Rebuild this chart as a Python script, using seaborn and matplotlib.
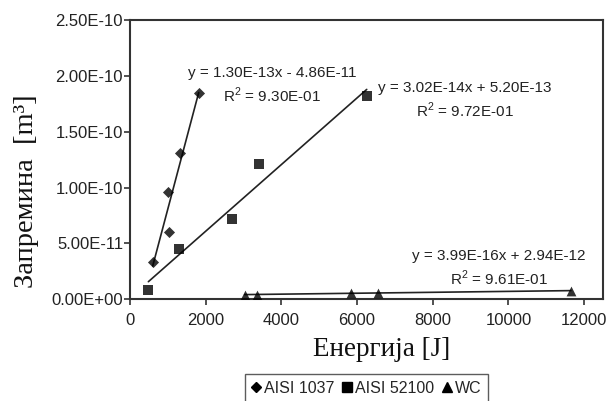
import numpy as np
import pandas as pd
import seaborn as sns
import matplotlib.pyplot as plt
from matplotlib.lines import Line2D
from matplotlib.ticker import FuncFormatter

# data: energy [J] vs. wear volume [m3]
e_1037 = [600, 1000, 1040, 1330, 1815]
v_1037 = [3.3e-11, 9.6e-11, 6.0e-11, 1.31e-10, 1.85e-10]
e_52100 = [485, 1300, 2690, 3420, 6255]
v_52100 = [8.3e-12, 4.5e-11, 7.2e-11, 1.21e-10, 1.82e-10]
e_wc = [3030, 3350, 5830, 6540, 11650]
v_wc = [4.0e-12, 4.0e-12, 5.0e-12, 5.5e-12, 7.5e-12]

labels = ["AISI 1037", "AISI 52100", "WC"]
eqs = ["y = 1.30E-13x - 4.86E-11\nR$^2$ = 9.30E-01",
       "y = 3.02E-14x + 5.20E-13\nR$^2$ = 9.72E-01",
       "y = 3.99E-16x + 2.94E-12\nR$^2$ = 9.61E-01"]

sns.set_style("white")
plt.rcParams["font.family"] = ["Liberation Sans", "DejaVu Sans"]
plt.rcParams["mathtext.fontset"] = "custom"
plt.rcParams["mathtext.rm"] = "Liberation Sans"

fig = plt.figure(figsize=(6.09, 4.01), dpi=100)
ax = fig.add_axes([0.2135, 0.2544, 0.7767, 0.6946])

series = [(e_1037, v_1037, "D", 32), (e_52100, v_52100, "s", 45), (e_wc, v_wc, "^", 50)]
for x, y, m, s in series:
    sns.regplot(x=np.array(x), y=np.array(y), ax=ax, ci=None, truncate=True,
                marker=m, color="black",
                scatter_kws={"s": s, "linewidths": 0, "zorder": 3},
                line_kws={"lw": 1.2, "color": "#222222"})

# trendline equations
kw = dict(ha="center", va="center", fontsize=11, linespacing=1.35, color="#222222")
ax.text(3750, 1.915e-10, eqs[0], **kw)
ax.text(8855, 1.785e-10, eqs[1], **kw)
ax.text(9753, 2.75e-11, eqs[2], **kw)

ax.set_xlim(0, 12500)
ax.set_ylim(0, 2.5e-10)
ax.set_xticks(range(0, 12001, 2000))
ax.set_yticks(np.arange(0, 2.51e-10, 0.5e-10))
ax.yaxis.set_major_formatter(FuncFormatter(lambda v, p: "{:.2E}".format(v)))
ax.tick_params(axis="both", direction="out", length=4, width=1.2, labelsize=12,
               colors="#333333", labelcolor="#222222", pad=3)
ax.tick_params(axis="y", left=True, pad=1)
ax.tick_params(axis="x", bottom=True, pad=6)
for sp in ax.spines.values():
    sp.set_color("#333333")
    sp.set_linewidth(1.5)

ax.set_xlabel("Енергија [J]", family="Liberation Serif", fontsize=19.5, color="#111111")
ax.set_ylabel("Запремина  [m³]", family="Liberation Serif", fontsize=20.5, color="#111111")
ax.xaxis.set_label_coords(0.531, -0.135)
ax.yaxis.set_label_coords(-0.192, 0.387)

handles = [Line2D([], [], ls="", marker=m, color="black", markersize=ms)
           for m, ms in zip(["D", "s", "^"], [5.5, 7, 7.5])]
leg = ax.legend(handles, labels, loc="upper center", bbox_to_anchor=(0.5, -0.27),
                ncol=3, frameon=True, fancybox=False, fontsize=11.5, handlelength=0.6,
                handletextpad=0.2, columnspacing=0.5, borderpad=0.4, borderaxespad=0)
leg.get_frame().set_edgecolor("#333333")
leg.get_frame().set_linewidth(1.0)

plt.savefig("out.png", dpi=100)
